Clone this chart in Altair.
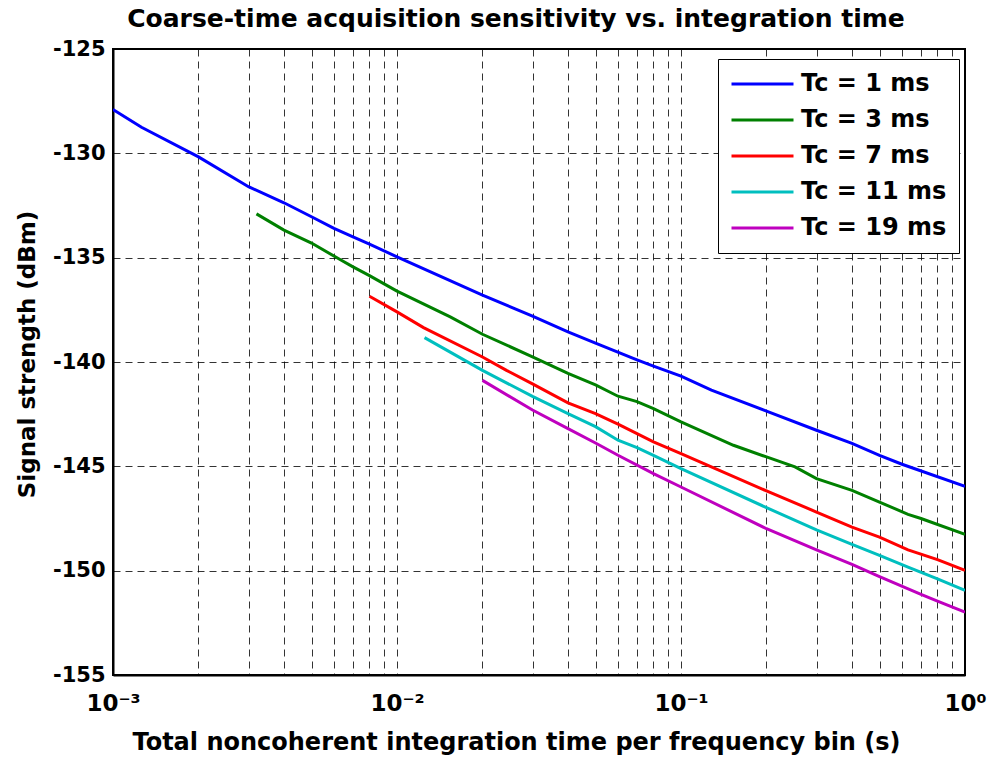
import altair as alt
import pandas as pd

series_names = ["Tc = 1 ms", "Tc = 3 ms", "Tc = 7 ms", "Tc = 11 ms", "Tc = 19 ms"]
series_colors = ["#0000FF", "#008000", "#FF0000", "#00BFBF", "#BF00BF"]

t_1ms = [0.001, 0.00126, 0.002, 0.003, 0.004, 0.005, 0.006, 0.007, 0.008, 0.01, 0.02, 0.03,
         0.04, 0.05, 0.07, 0.08, 0.1, 0.128, 0.2, 0.3, 0.4, 0.5, 0.6, 1.0]
s_1ms = [-127.9, -128.75, -130.17, -131.6, -132.37, -133.04, -133.6, -134.0, -134.35, -134.96,
         -136.8, -137.8, -138.56, -139.1, -139.9, -140.2, -140.68, -141.35, -142.35, -143.27,
         -143.9, -144.47, -144.9, -145.96]

t_3ms = [0.0032, 0.004, 0.005, 0.0063, 0.007, 0.008, 0.01, 0.0154, 0.02, 0.03, 0.04, 0.05,
         0.06, 0.07, 0.08, 0.1, 0.153, 0.2, 0.252, 0.3, 0.4, 0.5, 0.63, 0.7, 1.0]
s_3ms = [-132.9, -133.68, -134.3, -135.09, -135.44, -135.86, -136.6, -137.84, -138.67, -139.75,
         -140.55, -141.1, -141.64, -141.9, -142.23, -142.87, -143.99, -144.55, -145.03, -145.59,
         -146.15, -146.71, -147.3, -147.5, -148.26]

t_7ms = [0.008, 0.01, 0.0124, 0.02, 0.0243, 0.03, 0.04, 0.05, 0.06, 0.08, 0.1, 0.2, 0.3, 0.4,
         0.5, 0.63, 0.8, 1.0]
s_7ms = [-136.85, -137.6, -138.35, -139.76, -140.4, -141.05, -141.96, -142.47, -142.98, -143.83,
         -144.39, -146.18, -147.19, -147.91, -148.39, -149.0, -149.47, -149.99]

t_11ms = [0.0125, 0.02, 0.03, 0.04, 0.05, 0.06, 0.07, 0.08, 0.1, 0.2, 0.3, 0.4, 0.5, 0.63, 0.8, 1.0]
s_11ms = [-138.83, -140.4, -141.65, -142.47, -143.1, -143.75, -144.1, -144.47, -145.11, -146.98,
          -148.04, -148.74, -149.27, -149.83, -150.39, -150.95]

t_19ms = [0.02, 0.03, 0.04, 0.05, 0.06, 0.08, 0.1, 0.2, 0.3, 0.4, 0.5, 0.7, 0.8, 1.0]
s_19ms = [-140.88, -142.3, -143.19, -143.88, -144.47, -145.35, -145.99, -147.99, -149.0, -149.7,
          -150.28, -151.14, -151.46, -151.99]

y_ticks = [-155, -150, -145, -140, -135, -130, -125]
x_grid = [round(a * 10 ** e, 6) for e in (-3, -2, -1) for a in range(1, 10)] + [1.0]

rows = []
for name, ts, ss in zip(series_names,
                        [t_1ms, t_3ms, t_7ms, t_11ms, t_19ms],
                        [s_1ms, s_3ms, s_7ms, s_11ms, s_19ms]):
    for i, (t, s) in enumerate(zip(ts, ss)):
        rows.append({"series": name, "t": t, "s": s, "order": i})
df = pd.DataFrame(rows)

FONT = "DejaVu Sans"

label_expr = ("datum.value == 0.001 ? '10\u207b\u00b3' : datum.value == 0.01 ? '10\u207b\u00b2' : "
              "datum.value == 0.1 ? '10\u207b\u00b9' : datum.value == 1 ? '10\u2070' : ''")

chart = alt.Chart(df).mark_line(strokeWidth=3, clip=True).encode(
    x=alt.X("t:Q",
            scale=alt.Scale(type="log", domain=[0.001, 1], nice=False),
            axis=alt.Axis(values=x_grid, labelExpr=label_expr, labelOverlap=False,
                          labelFlush=False, ticks=False, grid=True,
                          gridDash=[7, 5], gridColor="#000000", gridOpacity=0.8,
                          labelFontSize=23, labelFontWeight="bold", labelPadding=17,
                          labelColor="black",
                          title="Total noncoherent integration time per frequency bin (s)",
                          titleFontSize=24, titleFontWeight="bold", titlePadding=15,
                          titleColor="black", titleX=403,
                          domainColor="black", domainWidth=2)),
    y=alt.Y("s:Q",
            scale=alt.Scale(domain=[-155, -125], nice=False, zero=False),
            axis=alt.Axis(values=y_ticks, labelExpr="'' + datum.value", ticks=False, grid=True,
                          gridDash=[7, 5], gridColor="#000000", gridOpacity=0.8,
                          labelFontSize=21, labelFontWeight="bold", labelPadding=8,
                          labelColor="black",
                          title="Signal strength (dBm)", titleFontSize=23,
                          titleFontWeight="bold", titlePadding=13, titleColor="black",
                          titleY=305,
                          domainColor="black", domainWidth=2)),
    color=alt.Color("series:N",
                    scale=alt.Scale(domain=series_names, range=series_colors),
                    legend=alt.Legend(orient="none", legendX=605, legendY=10, title=None,
                                      symbolType="stroke", symbolSize=3844,
                                      symbolStrokeWidth=3, clipHeight=26, rowPadding=10,
                                      labelFontSize=24, labelFontWeight="bold",
                                      labelColor="black", labelOffset=6,
                                      padding=12, strokeColor="black", fillColor="white")),
    order="order:Q",
).properties(
    width=852,
    height=626,
    title=alt.TitleParams("Coarse-time acquisition sensitivity vs. integration time",
                          fontSize=25, fontWeight="bold", color="black", offset=6,
                          anchor="middle", dx=-23),
    autosize=alt.AutoSizeParams(type="none"),
    padding={"left": 113, "top": 49, "right": 23, "bottom": 83},
).configure(
    font=FONT,
    background="white",
).configure_view(
    stroke="black", strokeWidth=2,
)

chart.save("out.html", embed_options={"renderer": "svg", "actions": False})
